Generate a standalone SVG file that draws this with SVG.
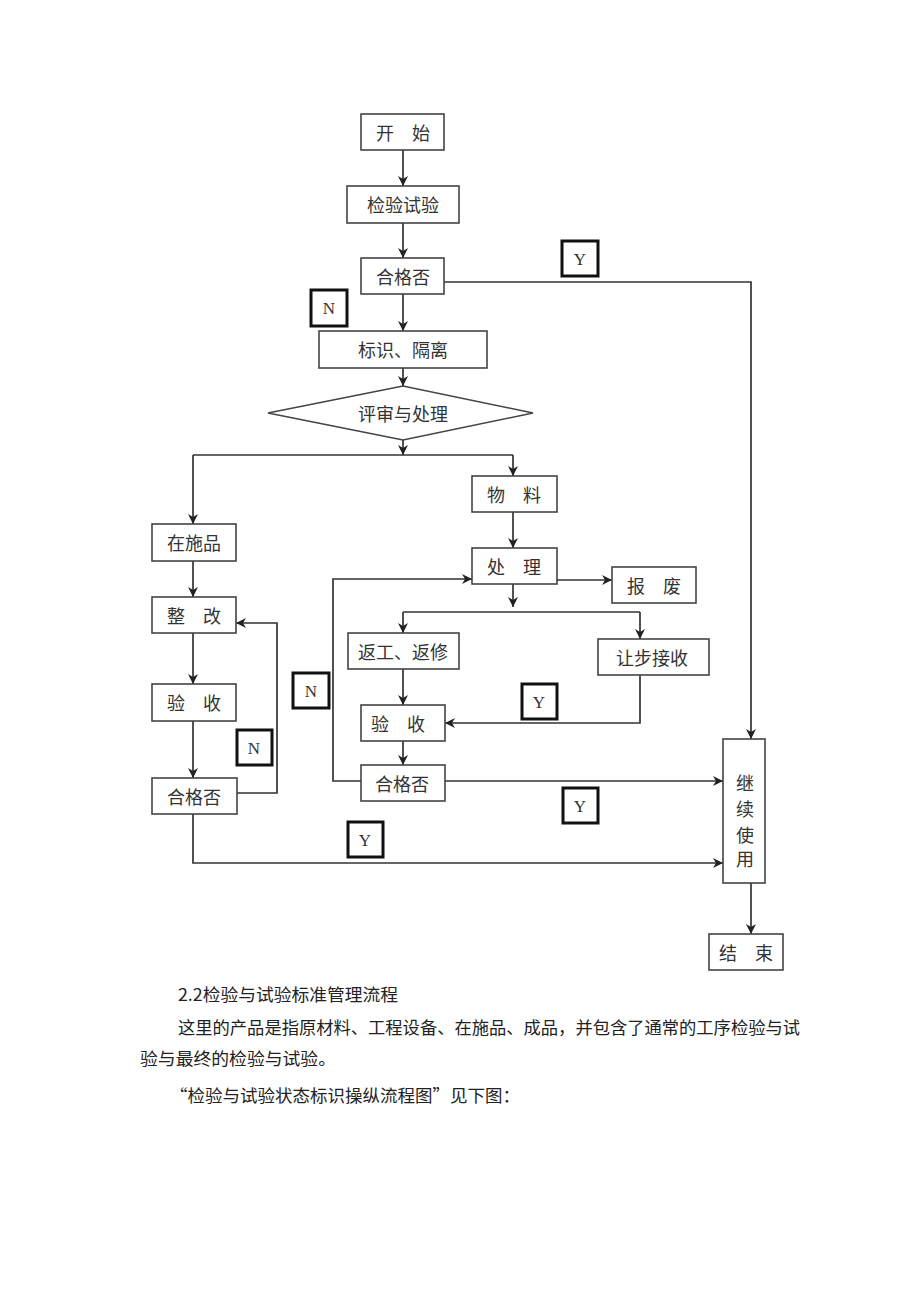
<svg xmlns="http://www.w3.org/2000/svg" width="920" height="1301" viewBox="0 0 920 1301">
<defs>
<marker id="ah" viewBox="0 0 10 10" refX="10" refY="5" markerWidth="10" markerHeight="10" markerUnits="userSpaceOnUse" orient="auto">
<path d="M0,0 L10,5 L0,10 L3,5 Z" fill="#222"/>
</marker>
<style>
.box{fill:#fff;stroke:#444;stroke-width:1.6}
.tag{fill:#fff;stroke:#111;stroke-width:3}
.lbl{font-family:"Noto Sans CJK SC","Liberation Serif",serif;font-size:18px;fill:#333;text-anchor:middle;dominant-baseline:central}
.yn{font-family:"Liberation Serif",serif;font-size:17px;fill:#333;text-anchor:middle;dominant-baseline:central}
.con{fill:none;stroke:#333;stroke-width:1.7}
.arr{marker-end:url(#ah)}
.para{font-family:"Noto Sans CJK SC","Liberation Serif",serif;font-size:17px;fill:#222}
</style>
</defs>
<rect width="920" height="1301" fill="#fff"/>

<g id="connectors">
<path class="con arr" d="M403 150 V186"/>
<path class="con arr" d="M403 223 V258"/>
<path class="con arr" d="M403 294 V331"/>
<path class="con arr" d="M403 368 V386"/>
<path class="con arr" d="M403 440 V455"/>
<path class="con" d="M193 455 H513"/>
<path class="con arr" d="M193 455 V524"/>
<path class="con arr" d="M513 455 V476"/>
<path class="con arr" d="M444 282 H751 V739"/>
<path class="con arr" d="M513 512 V548"/>
<path class="con arr" d="M193 561 V597"/>
<path class="con arr" d="M193 633 V684"/>
<path class="con arr" d="M193 721 V778"/>
<path class="con arr" d="M237 793 H277 V623 H236"/>
<path class="con arr" d="M193 814 V863 H723"/>
<path class="con arr" d="M557 580 H612"/>
<path class="con arr" d="M513 584 V607"/>
<path class="con" d="M403 612 H640"/>
<path class="con arr" d="M403 612 V633"/>
<path class="con arr" d="M640 612 V639"/>
<path class="con arr" d="M403 669 V705"/>
<path class="con arr" d="M640 675 V723 H445"/>
<path class="con arr" d="M403 741 V765"/>
<path class="con arr" d="M445 781 H723"/>
<path class="con arr" d="M361 781 H333 V579 H472"/>
<path class="con arr" d="M751 883 V934"/>
</g>

<g id="n-start"><rect class="box" x="361" y="114" width="83" height="36"/><text class="lbl" x="403" y="132">开　始</text></g>
<g id="n-inspect"><rect class="box" x="347" y="186" width="112" height="37"/><text class="lbl" x="403" y="204">检验试验</text></g>
<g id="n-pass1"><rect class="box" x="361" y="258" width="83" height="36"/><text class="lbl" x="403" y="276">合格否</text></g>
<g id="n-mark"><rect class="box" x="319" y="331" width="168" height="37"/><text class="lbl" x="403" y="349">标识、隔离</text></g>
<g id="n-review"><polygon class="box" points="268,413 403,386 533,413 403,440"/><text class="lbl" x="403" y="413">评审与处理</text></g>
<g id="n-material"><rect class="box" x="472" y="476" width="85" height="36"/><text class="lbl" x="514" y="494">物　料</text></g>
<g id="n-wip"><rect class="box" x="152" y="524" width="84" height="37"/><text class="lbl" x="194" y="542">在施品</text></g>
<g id="n-rectify"><rect class="box" x="152" y="597" width="84" height="36"/><text class="lbl" x="194" y="615">整　改</text></g>
<g id="n-accept1"><rect class="box" x="152" y="684" width="84" height="37"/><text class="lbl" x="194" y="702">验　收</text></g>
<g id="n-pass2"><rect class="box" x="152" y="778" width="85" height="36"/><text class="lbl" x="194" y="796">合格否</text></g>
<g id="n-handle"><rect class="box" x="472" y="548" width="85" height="36"/><text class="lbl" x="514" y="566">处　理</text></g>
<g id="n-scrap"><rect class="box" x="612" y="567" width="84" height="36"/><text class="lbl" x="654" y="585">报　废</text></g>
<g id="n-rework"><rect class="box" x="348" y="633" width="111" height="36"/><text class="lbl" x="403" y="651">返工、返修</text></g>
<g id="n-concession"><rect class="box" x="598" y="639" width="111" height="36"/><text class="lbl" x="652" y="657">让步接收</text></g>
<g id="n-accept2"><rect class="box" x="361" y="705" width="84" height="36"/><text class="lbl" x="398" y="723">验　收</text></g>
<g id="n-pass3"><rect class="box" x="361" y="765" width="84" height="36"/><text class="lbl" x="402" y="783">合格否</text></g>
<g id="n-continue"><rect class="box" x="723" y="739" width="42" height="144"/>
<text class="lbl" x="745" y="782">继</text><text class="lbl" x="745" y="808">续</text><text class="lbl" x="745" y="834">使</text><text class="lbl" x="745" y="858">用</text></g>
<g id="n-end"><rect class="box" x="709" y="934" width="74" height="36"/><text class="lbl" x="746" y="952">结　束</text></g>

<g id="tags">
<g id="t-y1"><rect class="tag" x="562" y="241" width="36" height="35"/><text class="yn" x="580" y="259">Y</text></g>
<g id="t-n1"><rect class="tag" x="311" y="290" width="36" height="36"/><text class="yn" x="329" y="308">N</text></g>
<g id="t-n2"><rect class="tag" x="237" y="730" width="35" height="35"/><text class="yn" x="254" y="748">N</text></g>
<g id="t-y2"><rect class="tag" x="348" y="822" width="35" height="35"/><text class="yn" x="365" y="840">Y</text></g>
<g id="t-n3"><rect class="tag" x="293" y="673" width="36" height="35"/><text class="yn" x="311" y="691">N</text></g>
<g id="t-y3"><rect class="tag" x="522" y="684" width="35" height="35"/><text class="yn" x="539" y="702">Y</text></g>
<g id="t-y4"><rect class="tag" x="563" y="788" width="35" height="35"/><text class="yn" x="580" y="806">Y</text></g>
</g>

<g id="text">
<text class="para" x="178" y="1001" textLength="220" lengthAdjust="spacingAndGlyphs">2.2检验与试验标准管理流程</text>
<text class="para" x="178" y="1034" textLength="622" lengthAdjust="spacingAndGlyphs">这里的产品是指原材料、工程设备、在施品、成品，并包含了通常的工序检验与试</text>
<text class="para" x="140" y="1065" textLength="196" lengthAdjust="spacingAndGlyphs">验与最终的检验与试验。</text>
<text class="para" x="170" y="1102" textLength="350" lengthAdjust="spacingAndGlyphs">“检验与试验状态标识操纵流程图”见下图：</text>
</g>
</svg>
